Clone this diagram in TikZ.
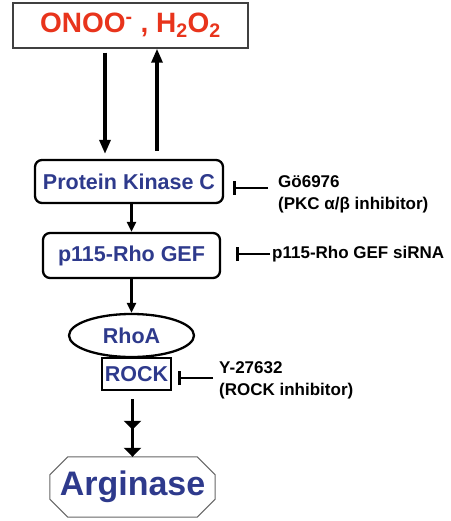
\documentclass[tikz,border=0pt]{standalone}
\usepackage{fontspec}
\setmainfont{Liberation Sans}
\usetikzlibrary{arrows.meta,shapes.geometric}
\definecolor{rosred}{HTML}{E8341C}
\definecolor{sigblue}{HTML}{2E3A8C}

\begin{document}
\begin{tikzpicture}[x=1pt,y=-1pt,
    box/.style={draw,line width=2.3pt,rounded corners=7pt,text=sigblue,inner sep=0pt,
      font=\fontsize{21.5}{24}\selectfont\bfseries},
    lbl/.style={anchor=west,align=left,inner sep=0pt,font=\fontsize{17}{22}\selectfont\bfseries},
    arr/.style={-{Triangle[width=9pt,length=10pt]},line width=2.2pt},
    bigarr/.style={-{Triangle[width=11pt,length=14pt]},line width=3.2pt},
    dblarr/.style={-{Triangle[width=17pt,length=9pt]},line width=2.6pt},
    inhib/.style={-{Bar[width=14pt,line width=3pt]},line width=2.6pt}]
  \useasboundingbox (0,0) rectangle (450,521);
  % pathway
  \node[draw=black!75,line width=1.5pt,minimum width=235pt,minimum height=45pt,text=rosred,
    font=\fontsize{28}{30}\selectfont\bfseries] (ros) at (130.5,25.5)
    {ONOO\textsuperscript{-} , H\textsubscript{2}O\textsubscript{2}};
  \node[box,minimum width=188pt,minimum height=43pt] (pkc) at (129,181.5) {Protein Kinase C};
  \node[box,minimum width=177pt,minimum height=45pt] (gef) at (131.5,255.5) {p115-Rho GEF};
  \node[box,ellipse,rounded corners=0pt,minimum width=125pt,minimum height=43pt] (rhoa) at (131.5,335.5) {RhoA};
  \node[box,rounded corners=0pt,minimum width=69pt,minimum height=32pt] (rock) at (136.5,374) {ROCK};
  \node[text=sigblue,inner sep=0pt,minimum width=165pt,minimum height=60pt,
    font=\fontsize{34}{36}\selectfont\bfseries] (arg) at (132.5,487) {Arginase};
  \draw[black!60,line width=1pt] ([xshift=18pt]arg.north west) -- ([xshift=-18pt]arg.north east)
    -- ([yshift=-18pt]arg.north east) -- ([yshift=18pt]arg.south east)
    -- ([xshift=-18pt]arg.south east) -- ([xshift=18pt]arg.south west)
    -- ([yshift=18pt]arg.south west) -- ([yshift=-18pt]arg.north west) -- cycle;
  % inhibitors
  \node[lbl] (go) at (278,194) {Gö6976\\(PKC α/β inhibitor)};
  \node[lbl] (sirna) at (272,254) {p115-Rho GEF siRNA};
  \node[lbl] (y27) at (219,380) {Y-27632\\(ROCK inhibitor)};
  \begin{scope}
    \draw[bigarr,shorten <=4pt,shorten >=5pt] ([xshift=-25.5pt]ros.south) -- ([xshift=-25.5pt]ros.south |- pkc.north);
    \draw[bigarr,shorten <=8pt] ([xshift=26.5pt]ros.south |- pkc.north) -- ([xshift=26.5pt]ros.south);
    \draw[arr] (gef.north |- pkc.south) -- (gef.north);
    \draw[arr] (rhoa.north |- gef.south) -- (rhoa.north);
    \draw[dblarr,shorten <=8pt] (arg.north |- rock.south) -- (arg.north);
    \draw[dblarr,shorten <=8pt,shorten >=27pt] (arg.north |- rock.south) -- (arg.north);
    \draw[inhib,shorten >=9pt] ([shift={(-10pt,6pt)}]go.west) -- ([yshift=6pt]go.west -| pkc.east);
    \draw[inhib,shorten >=15pt] ([xshift=-2pt]sirna.west) -- (sirna.west -| gef.east);
    \draw[inhib,shorten >=6pt] ([shift={(-6pt,2pt)}]y27.west) -- ([yshift=2pt]y27.west -| rock.east);
  \end{scope}
\end{tikzpicture}
\end{document}
